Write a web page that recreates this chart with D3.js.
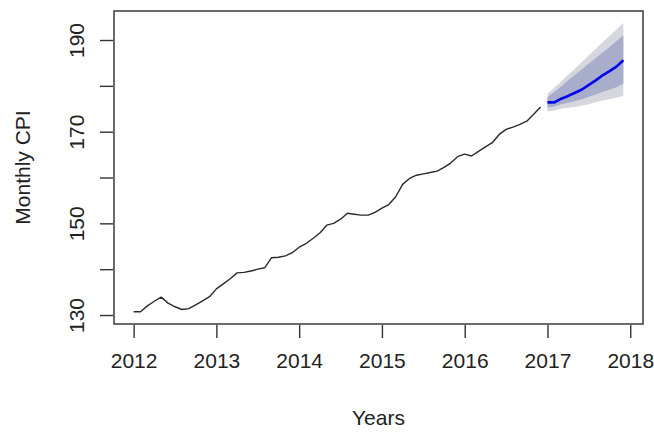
<!DOCTYPE html>
<html>
<head>
<meta charset="utf-8">
<script src="https://cdn.jsdelivr.net/npm/d3@7"></script>
<style>
  html, body { margin: 0; padding: 0; background: #fff; }
  svg { display: block; font-family: "Liberation Sans", Arial, sans-serif; }
</style>
</head>
<body>
<svg id="chart" width="654" height="432"></svg>
<script>
// Monthly CPI, Jan 2012 - Dec 2016
const startYear = 2012;
const cpi = [
  130.7, 130.7, 132.0, 133.0, 133.9, 132.6, 131.8, 131.2, 131.4, 132.2, 133.1, 134.0,
  135.7, 136.8, 137.9, 139.2, 139.3, 139.6, 140.0, 140.3, 142.5, 142.6, 142.9, 143.6,
  144.8, 145.6, 146.7, 147.9, 149.6, 150.0, 150.9, 152.2, 152.0, 151.8, 151.8, 152.4,
  153.3, 154.1, 155.8, 158.5, 159.8, 160.5, 160.8, 161.1, 161.4, 162.2, 163.2, 164.6,
  165.1, 164.7, 165.7, 166.7, 167.6, 169.4, 170.5, 171.0, 171.6, 172.3, 173.8, 175.4
];

// Forecast for Jan - Dec 2017: point forecast with 80% and 95% intervals
const forecastYear = 2017;
const fcMean = [176.4, 176.4, 177.2, 177.8, 178.5, 179.2, 180.2, 181.2, 182.3, 183.2, 184.2, 185.6];
const lo80 = [175.3, 175.5, 176.0, 176.3, 176.7, 177.1, 177.6, 178.1, 178.7, 179.2, 179.7, 180.5];
const hi80 = [177.5, 178.7, 179.9, 181.2, 182.4, 183.6, 184.9, 186.1, 187.3, 188.5, 189.8, 191.0];
const lo95 = [174.4, 174.6, 175.0, 175.2, 175.4, 175.7, 176.0, 176.4, 176.8, 177.1, 177.4, 177.8];
const hi95 = [178.2, 179.6, 181.0, 182.4, 183.8, 185.2, 186.7, 188.1, 189.5, 190.9, 192.3, 193.7];

const xTicks = [2012, 2013, 2014, 2015, 2016, 2017, 2018];
const yTicks = [130, 140, 150, 160, 170, 180, 190];
const yLabels = [130, 150, 170, 190];

const svg = d3.select("#chart");
const box = { left: 114, right: 643, top: 11, bottom: 324 };

const x = d3.scaleLinear().domain([2011.763, 2018.154]).range([box.left, box.right]);
const y = d3.scaleLinear().domain([128.04, 196.33]).range([box.bottom, box.top]);

const hist = cpi.map((v, i) => ({ t: startYear + i / 12, v }));
const fc = fcMean.map((v, i) => ({
  t: forecastYear + i / 12, v,
  lo80: lo80[i], hi80: hi80[i], lo95: lo95[i], hi95: hi95[i]
}));

// prediction intervals
const band = (lo, hi) => d3.area().x(d => x(d.t)).y0(d => y(d[lo])).y1(d => y(d[hi]));
svg.append("path").datum(fc).attr("d", band("lo95", "hi95")).attr("fill", "#d6d7de");
svg.append("path").datum(fc).attr("d", band("lo80", "hi80")).attr("fill", "#a8adcb");

// observed series
const line = d3.line().x(d => x(d.t)).y(d => y(d.v));
svg.append("path").datum(hist).attr("d", line)
  .attr("fill", "none").attr("stroke", "#2a2a2a").attr("stroke-width", 1.4)
  .attr("stroke-linejoin", "round");

// point forecast
svg.append("path").datum(fc).attr("d", line)
  .attr("fill", "none").attr("stroke", "#0000ee").attr("stroke-width", 2.6)
  .attr("stroke-linejoin", "round");

// plot frame
svg.append("rect")
  .attr("x", box.left).attr("y", box.top)
  .attr("width", box.right - box.left).attr("height", box.bottom - box.top)
  .attr("fill", "none").attr("stroke", "#3a3a3a").attr("stroke-width", 1.5);

// x axis
const xAxis = d3.axisBottom(x).tickValues(xTicks).tickFormat(d3.format("d"))
  .tickSize(13).tickPadding(15);
const gx = svg.append("g").attr("transform", `translate(0,${box.bottom + 1})`).call(xAxis);
gx.select(".domain").remove();
gx.selectAll(".tick line").attr("stroke", "#333").attr("stroke-width", 1.4);
gx.selectAll(".tick text").attr("font-size", 21).attr("fill", "#222")
  .attr("font-family", "Liberation Sans, Arial, sans-serif");

// y axis: ticks every 10, labels every 20, rotated as in base R
const yAxis = d3.axisLeft(y).tickValues(yTicks)
  .tickFormat(d => yLabels.includes(d) ? d : "")
  .tickSize(13).tickPadding(0);
const gy = svg.append("g").attr("transform", `translate(${box.left - 1},0)`).call(yAxis);
gy.select(".domain").remove();
gy.selectAll(".tick line").attr("stroke", "#333").attr("stroke-width", 1.4);
gy.selectAll(".tick text")
  .attr("font-size", 21).attr("fill", "#222")
  .attr("font-family", "Liberation Sans, Arial, sans-serif")
  .attr("text-anchor", "middle").attr("dy", null)
  .attr("x", null)
  .attr("transform", "translate(-29,0) rotate(-90)");

// axis titles
svg.append("text").attr("x", (box.left + box.right) / 2).attr("y", 425)
  .attr("text-anchor", "middle").attr("font-size", 21).attr("fill", "#222")
  .text("Years");
svg.append("text")
  .attr("transform", `translate(30,${(box.top + box.bottom) / 2}) rotate(-90)`)
  .attr("text-anchor", "middle").attr("font-size", 21).attr("fill", "#222")
  .text("Monthly CPI");
</script>
</body>
</html>
